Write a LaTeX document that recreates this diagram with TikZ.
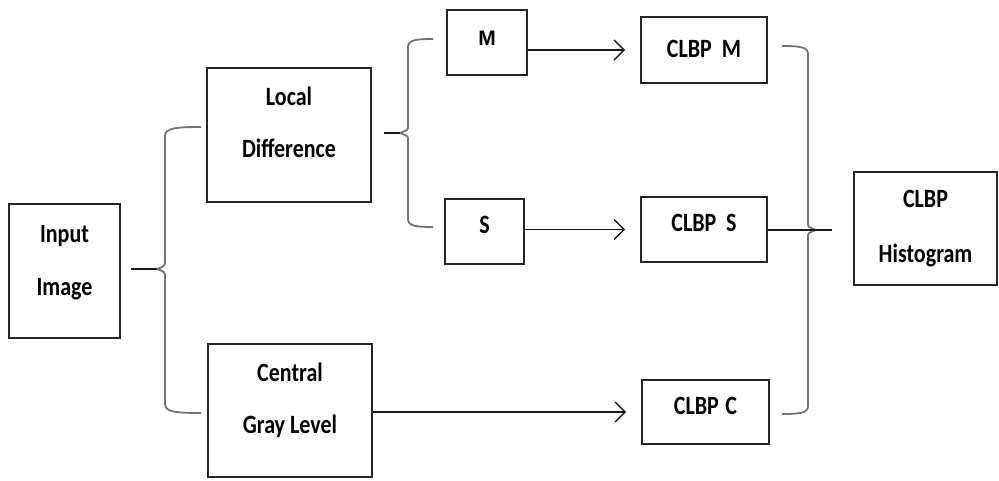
\documentclass[tikz,border=0pt]{standalone}
\usepackage{fontspec}
\usepackage{graphicx}
\setmainfont{Carlito}
\newfontfamily\arialfont{Liberation Sans}
\usetikzlibrary{arrows.meta,calc}

% tall, slightly condensed label text
\newcommand{\lbl}[1]{\scalebox{1}[1.2]{\bfseries #1}}

\tikzset{
  blk/.style={draw=black!85, line width=1.6pt, minimum width=0pt, minimum height=0pt, inner sep=0pt},
  txt/.style={anchor=base, inner sep=0pt, font=\fontsize{22}{26}\selectfont},
  conn/.style={draw=black!90, line width=1.5pt},
  arr/.style={conn, -{Straight Barb[length=10pt,width=20pt,line width=1.5pt]}, shorten >=15pt},
  brc/.style={draw=black!55, line width=1.8pt, line join=round},
  brtip/.style={draw=black!90, line width=1.8pt},
}

\newcommand{\boxat}[5]{% name, left, top, right, bottom
  \node[blk, minimum width={(#4-#2)*1pt}, minimum height={(#5-#3)*1pt}] (#1) at ({(#2+#4)/2},{(#3+#5)/2}) {};}

\begin{document}
\begin{tikzpicture}[x=1pt,y=-1pt]
\useasboundingbox (0,0) rectangle (999,480);

% blocks
\boxat{in}{9}{204}{120}{338}
\boxat{ld}{207}{68}{371}{202}
\boxat{cg}{208}{344}{372}{477}
\boxat{m}{447}{10}{527}{75}
\boxat{s}{445}{199}{524}{264}
\boxat{cm}{641}{17}{767}{83}
\boxat{cs}{641}{197}{767}{262}
\boxat{cc}{642}{380}{769}{444}
\boxat{hist}{854}{172}{997}{285}

% block texts
\node[txt] (in1) at (in.center |- 0,242) {\lbl{Input}};
\node[txt] (in2) at (in.center |- 0,295) {\lbl{Image}};
\node[txt] (ld1) at (ld.center |- 0,105) {\lbl{Local}};
\node[txt] (ld2) at (ld.center |- 0,157) {\lbl{Difference}};
\node[txt] (cg1) at (cg.center |- 0,381) {\lbl{Central}};
\node[txt] (cg2) at (cg.center |- 0,433) {\lbl{Gray Level}};
\node[txt] (h1) at (hist.center |- 0,207) {\lbl{CLBP}};
\node[txt] (h2) at (hist.center |- 0,262) {\lbl{Histogram}};
\node[anchor=center, inner sep=0pt, font=\arialfont\bfseries\fontsize{21}{24}\selectfont] (mt) at (487,38) {M};
\node[txt] (st) at (s.center |- 0,233) {\lbl{S}};
\node[txt] (cmt) at (cm.center |- 0,57) {\lbl{CLBP\hspace{0.45em}M}};
\node[txt] (cst) at (cs.center |- 0,231) {\lbl{CLBP\hspace{0.45em}S}};
\node[txt] (cct) at (cc.center |- 0,414) {\lbl{CLBP\hspace{0.3em}C}};

% left brace: Input Image -> Local Difference / Central Gray Level
\coordinate (lb) at (157,269);
\draw[brc] (201,127) .. controls (176,127) and (165,128) .. (165,136) -- (165,261)
  .. controls (165,266) .. (lb) .. controls (165,272) .. (165,277) -- (165,404)
  .. controls (165,412) and (176,413) .. (201,413);
\draw[brtip] ($(in.east |- lb)+(10,0)$) -- (lb);

% middle brace: Local Difference -> M / S
\coordinate (mb) at (400,133);
\draw[brc] (433,39) .. controls (416,39) and (408,40) .. (408,47) -- (408,126)
  .. controls (408,130) .. (mb) .. controls (408,136) .. (408,140) -- (408,219)
  .. controls (408,226) and (416,227) .. (433,227);
\draw[brtip] ($(ld.east |- mb)+(12,0)$) -- (mb);

% right brace: CLBP M / S / C -> CLBP Histogram
\coordinate (rb) at (832,230);
\draw[brc] (782,46) .. controls (800,46) and (808,47) .. (808,54) -- (808,223)
  .. controls (808,227) .. (816,230) .. controls (808,233) .. (808,237) -- (808,406)
  .. controls (808,413) and (800,414) .. (782,414);
\draw[brtip] (cs.east |- rb) -- (rb);

% arrows
\draw[arr] (m.east |- cm.west) -- (cm.west);
\draw[arr] (s.east |- cs.west) -- (cs.west);
\draw[arr] (cg.east |- cc.west) -- (cc.west);
\end{tikzpicture}
\end{document}
